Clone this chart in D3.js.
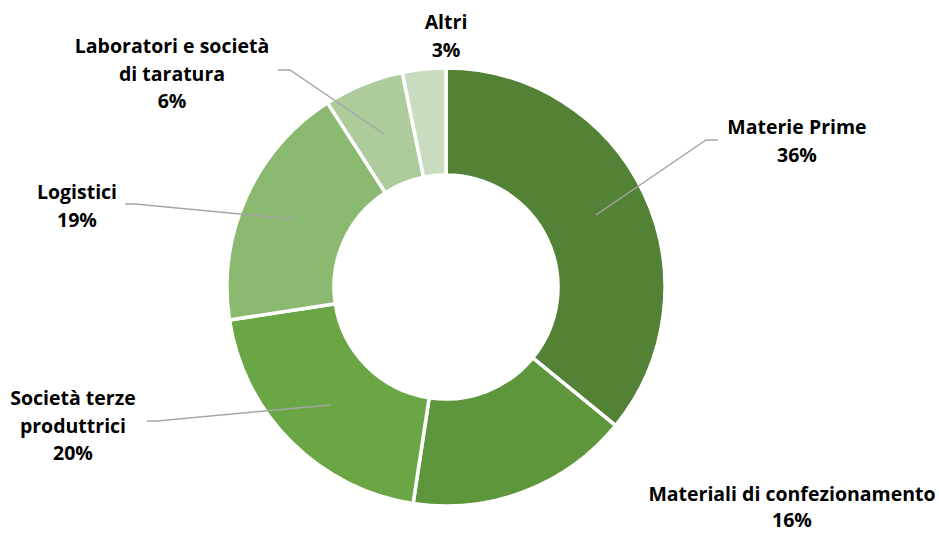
<!DOCTYPE html>
<html><head><meta charset="utf-8">
<script src="https://cdn.jsdelivr.net/npm/d3@7"></script>
<style>body{margin:0;background:#fff}svg{display:block}text{font-family:"Open Sans",sans-serif;font-weight:bold;fill:#000;font-variant-ligatures:none}</style>
</head><body>
<svg id="c" width="939" height="534"></svg>
<script>
const categories = ["Materie Prime","Materiali di confezionamento","Società terze produttrici","Logistici","Laboratori e società di taratura","Altri"];
const values = [35.9, 16.5, 20.2, 18.3, 5.9, 3.2];
const percentLabels = ["36%","16%","20%","19%","6%","3%"];
const labelLines = [["Materie Prime"],["Materiali di confezionamento"],["Società terze","produttrici"],["Logistici"],["Laboratori e società","di taratura"],["Altri"]];
const colors = ["#538135","#5e963c","#6aa644","#8bb96f","#adcb9b","#c9dcc0"];
// label anchor positions (centre of label block, first line baseline)
const labelPos = [[797,134],[792,501],[73,405],[77,199],[172,53],[446,29]];
const leaders = [[[596,215],[706,140],[718,140]],null,[[330,405],[157,421],[147,421]],[[294,219],[135,204],[125,204]],[[384,134],[290,70],[278,70]],null];

const svg = d3.select("#c");
const cx = 446, cy = 287, rOut = 219, rIn = 112;
const g = svg.append("g").attr("transform", `translate(${cx},${cy})`);
const pie = d3.pie().sort(null).value(d => d);
const arc = d3.arc().innerRadius(rIn).outerRadius(rOut);
g.selectAll("path").data(pie(values)).join("path")
  .attr("d", arc).attr("fill", (d,i) => colors[i])
  .attr("stroke", "#fff").attr("stroke-width", 3.5).attr("stroke-linejoin","miter");

const line = d3.line();
leaders.forEach(l => { if (l) svg.append("path").attr("d", line(l)).attr("fill","none").attr("stroke","#a6a6a6").attr("stroke-width",1.5); });

labelLines.forEach((lines, i) => {
  const t = svg.append("text").attr("text-anchor","middle").attr("font-size",19.5);
  const all = lines.concat([percentLabels[i]]);
  const step = i === 1 ? 26 : 27.5;
  all.forEach((s, j) => t.append("tspan").attr("x", labelPos[i][0]).attr("y", labelPos[i][1] + j*step).text(s));
});
</script>
</body></html>
